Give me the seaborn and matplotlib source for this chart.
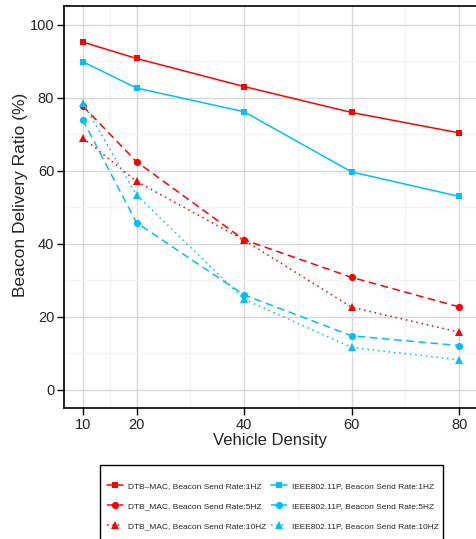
# filename: plot.py
import matplotlib.pyplot as plt
import matplotlib.patches as mpatches
import numpy as np
import seaborn as sns

density = [10, 20, 40, 60, 80]

dtb_1hz = [95.3, 90.8, 83.1, 76.0, 70.4]
dtb_5hz = [77.8, 62.5, 41.1, 30.8, 22.7]
dtb_10hz = [69.1, 57.1, 41.0, 22.6, 15.8]
ieee_1hz = [89.9, 82.7, 76.2, 59.7, 53.0]
ieee_5hz = [74.0, 45.8, 26.0, 14.8, 12.1]
ieee_10hz = [78.7, 53.4, 24.8, 11.6, 8.2]

labels = ['DTB\u2013MAC, Beacon Send Rate:1HZ',
          'IEEE802.11P, Beacon Send Rate:1HZ',
          'DTB_MAC, Beacon Send Rate:5HZ',
          'IEEE802.11P, Beacon Send Rate:5HZ',
          'DTB_MAC, Beacon Send Rate:10HZ',
          'IEEE802.11P, Beacon Send Rate:10HZ']

red = '#ff0000'
blue = '#00bfff'

sns.set_style('whitegrid')
plt.rcParams['font.family'] = ['Liberation Sans', 'DejaVu Sans']

fig = plt.figure(figsize=(4.77, 5.39), dpi=100)
ax = fig.add_axes([0.134, 0.243, 0.866, 0.746])

series = [
    (dtb_1hz, red, 's', '-', 4.6),
    (ieee_1hz, blue, 's', '-', 4.6),
    (dtb_5hz, red, 'o', (0, (5, 3)), 5.2),
    (ieee_5hz, blue, 'o', (0, (5, 3)), 5.2),
    (dtb_10hz, red, '^', (0, (1, 2.5)), 5.6),
    (ieee_10hz, blue, '^', (0, (1, 2.5)), 5.6),
]

for (vals, col, mk, ls, ms), lab in zip(series, labels):
    sns.lineplot(x=density, y=vals, ax=ax, color=col, marker=mk,
                 markersize=ms, markeredgewidth=0, linewidth=1.1,
                 linestyle=ls, label=lab)

ax.set_xlim(6.5, 83.3)
ax.set_ylim(-5, 105.2)
ax.set_xticks(density)
ax.set_xticks([15, 30, 50, 70], minor=True)
ax.set_yticks(np.arange(0, 101, 20))
ax.set_yticks(np.arange(10, 100, 20), minor=True)
ax.grid(which='major', color='#d8d8d8', linewidth=1.0)
ax.grid(which='minor', color='#f3f3f3', linewidth=1.0)
ax.tick_params(which='major', direction='out', length=5, width=1,
               color='black', labelsize=10.5, pad=2, left=True, bottom=True)
ax.tick_params(which='minor', length=0)

for s in ['left', 'bottom', 'top']:
    ax.spines[s].set_color('black')
    ax.spines[s].set_linewidth(1.2)
ax.spines['right'].set_visible(False)

ax.set_xlabel('Vehicle Density', fontsize=12, labelpad=1)
ax.set_ylabel('Beacon Delivery Ratio (%)', fontsize=12.5)
ax.yaxis.set_label_coords(-0.087, 0.531)

ax.get_legend().remove()
handles, labs = ax.get_legend_handles_labels()
# order column-wise: DTB left, IEEE right
order = [0, 2, 4, 1, 3, 5]

# legend frame, drawn by hand (runs off the bottom edge as in the original)
W, H = 477.0, 539.0
frame = mpatches.Rectangle((100 / W, -0.05), (443 - 100) / W,
                           (1 - 465 / H) + 0.05, transform=fig.transFigure,
                           fill=False, edgecolor='black', linewidth=1.0)
fig.patches.append(frame)

leg = fig.legend([handles[i] for i in order], [labs[i] for i in order],
                 loc='upper left', bbox_to_anchor=(107 / W, 1 - 482.5 / H),
                 ncol=2, fontsize=6.0, frameon=False,
                 handlelength=1.95, handletextpad=0.6,
                 columnspacing=0.5, borderpad=0, labelspacing=1.43,
                 borderaxespad=0)

fig.savefig('out.png', dpi=100)
